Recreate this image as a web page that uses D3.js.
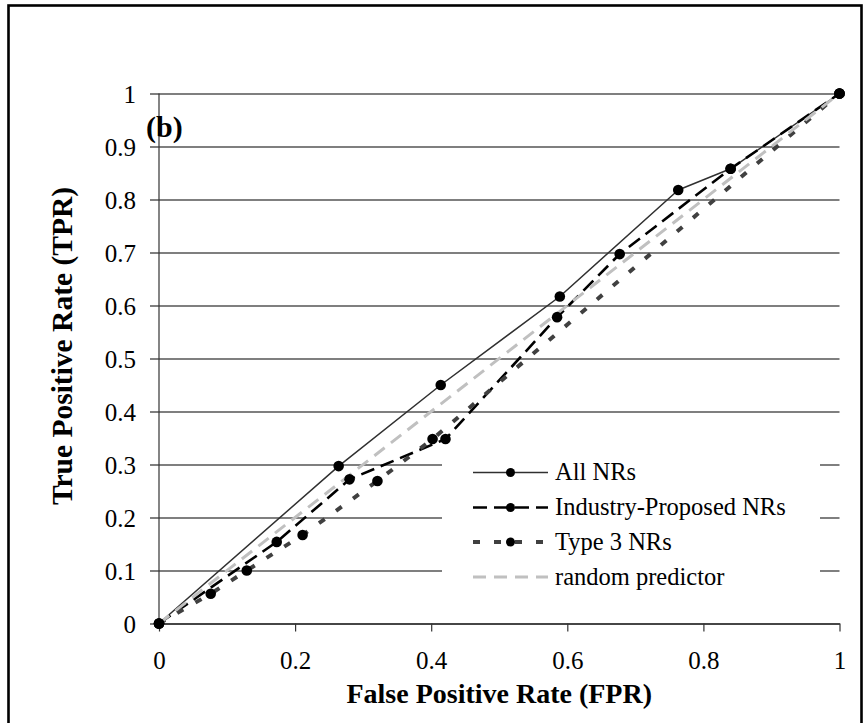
<!DOCTYPE html>
<html>
<head>
<meta charset="utf-8">
<script src="https://cdn.jsdelivr.net/npm/d3@7"></script>
<style>
  html, body { margin: 0; padding: 0; background: #fff; }
  svg { display: block; }
  text { font-family: "Liberation Serif", "Times New Roman", serif; fill: #000; }
</style>
</head>
<body>
<svg id="chart" width="865" height="723"></svg>
<script>
// Axis ticks
const fprTicks = [0, 0.2, 0.4, 0.6, 0.8, 1];
const tprTicks = [0, 0.1, 0.2, 0.3, 0.4, 0.5, 0.6, 0.7, 0.8, 0.9, 1];

// ROC points per rule set (FPR, TPR)
const allFPR = [0, 0.264, 0.414, 0.589, 0.763, 0.840, 1];
const allTPR = [0, 0.297, 0.450, 0.617, 0.818, 0.858, 1];

const industryFPR = [0, 0.173, 0.280, 0.421, 0.585, 0.677, 0.840, 1];
const industryTPR = [0, 0.154, 0.272, 0.348, 0.578, 0.697, 0.858, 1];

const type3FPR = [0, 0.076, 0.129, 0.211, 0.321, 0.402, 1];
const type3TPR = [0, 0.056, 0.100, 0.167, 0.269, 0.348, 1];

const randomFPR = [0, 1];
const randomTPR = [0, 1];

const seriesNames = ["All NRs", "Industry-Proposed NRs", "Type 3 NRs", "random predictor"];

const zip = (xs, ys) => xs.map((v, i) => ({ fpr: v, tpr: ys[i] }));

const series = [
  { name: seriesNames[0], pts: zip(allFPR, allTPR), stroke: "#303030", width: 1.5, dash: null, marker: true },
  { name: seriesNames[1], pts: zip(industryFPR, industryTPR), stroke: "#000", width: 2.6, dash: "14,7", marker: true },
  { name: seriesNames[2], pts: zip(type3FPR, type3TPR), stroke: "#404040", width: 4, dash: "7,14", marker: true },
  { name: seriesNames[3], pts: zip(randomFPR, randomTPR), stroke: "#c0c0c0", width: 3, dash: "13,8", marker: false }
];

const svg = d3.select("#chart");

// Figure frame
svg.append("rect")
  .attr("x", 8.5).attr("y", 5.5)
  .attr("width", 853).attr("height", 740)
  .attr("fill", "#fff")
  .attr("stroke", "#000").attr("stroke-width", 2.6);

const x = d3.scaleLinear().domain([0, 1]).range([159, 839.5]);
const y = d3.scaleLinear().domain([0, 1]).range([623.5, 93.5]);

// Horizontal gridlines with the TPR tick labels
const yAxis = d3.axisLeft(y)
  .tickValues(tprTicks)
  .tickFormat(d3.format(""))
  .tickSize(x(1) - 150)
  .tickPadding(14);

const gy = svg.append("g")
  .attr("transform", `translate(${x(1)},0)`)
  .call(yAxis);
gy.select(".domain").remove();
gy.selectAll(".tick line").attr("stroke", "#555").attr("stroke-width", 1.3);
gy.selectAll(".tick text")
  .attr("dy", null).attr("y", 9)
  .style("font-size", "25px")
  .style("font-family", "'Liberation Serif', serif");

// Vertical axis line
svg.append("line")
  .attr("x1", x(0)).attr("x2", x(0))
  .attr("y1", y(1)).attr("y2", y(0))
  .attr("stroke", "#333").attr("stroke-width", 1.2);

// FPR axis
const xAxis = d3.axisBottom(x)
  .tickValues(fprTicks)
  .tickFormat(d3.format(""))
  .tickSizeInner(8)
  .tickSizeOuter(0);

const gx = svg.append("g")
  .attr("transform", `translate(0,${y(0)})`)
  .call(xAxis);
gx.select(".domain").attr("stroke", "#333").attr("stroke-width", 1.3);
gx.selectAll(".tick line").attr("stroke", "#333").attr("stroke-width", 1.2);
gx.selectAll(".tick text")
  .attr("dy", null).attr("y", 45)
  .style("font-size", "25px")
  .style("font-family", "'Liberation Serif', serif");

// Series lines
const line = d3.line().x(d => x(d.fpr)).y(d => y(d.tpr));

const plot = svg.append("g");
series.forEach(s => {
  plot.append("path")
    .datum(s.pts)
    .attr("d", line)
    .attr("fill", "none")
    .attr("stroke", s.stroke)
    .attr("stroke-width", s.width)
    .attr("stroke-dasharray", s.dash)
    .attr("stroke-linejoin", "round");
});

// Point markers
series.filter(s => s.marker).forEach(s => {
  plot.selectAll(null)
    .data(s.pts)
    .join("circle")
    .attr("cx", d => x(d.fpr))
    .attr("cy", d => y(d.tpr))
    .attr("r", 5.3)
    .attr("fill", "#000");
});

// Panel tag
svg.append("text")
  .attr("x", 146).attr("y", 137)
  .style("font-size", "30px").style("font-weight", "bold")
  .text("(b)");

// Axis titles
svg.append("text")
  .attr("x", (x(0) + x(1)) / 2).attr("y", 703)
  .attr("text-anchor", "middle")
  .style("font-size", "28px").style("font-weight", "bold")
  .text("False Positive Rate (FPR)");

svg.append("text")
  .attr("transform", "translate(72,346) rotate(-90)")
  .attr("text-anchor", "middle")
  .style("font-size", "29.5px").style("font-weight", "bold")
  .text("True Positive Rate (TPR)");

// Legend
const legend = svg.append("g");
legend.append("rect")
  .attr("x", 442).attr("y", 452)
  .attr("width", 378).attr("height", 142)
  .attr("fill", "#fff");

const rowY = [472.5, 507.5, 542, 577];
series.forEach((s, i) => {
  const row = legend.append("g").attr("transform", `translate(0,${rowY[i]})`);
  row.append("line")
    .attr("x1", 473).attr("x2", 548)
    .attr("y1", 0).attr("y2", 0)
    .attr("stroke", s.stroke)
    .attr("stroke-width", s.width)
    .attr("stroke-dasharray", s.dash);
  if (s.marker) {
    row.append("circle").attr("cx", 510.5).attr("cy", 0).attr("r", 4.5).attr("fill", "#000");
  }
  row.append("text")
    .attr("x", 555).attr("y", 7.5)
    .style("font-size", "24.5px")
    .text(s.name);
});
</script>
</body>
</html>
